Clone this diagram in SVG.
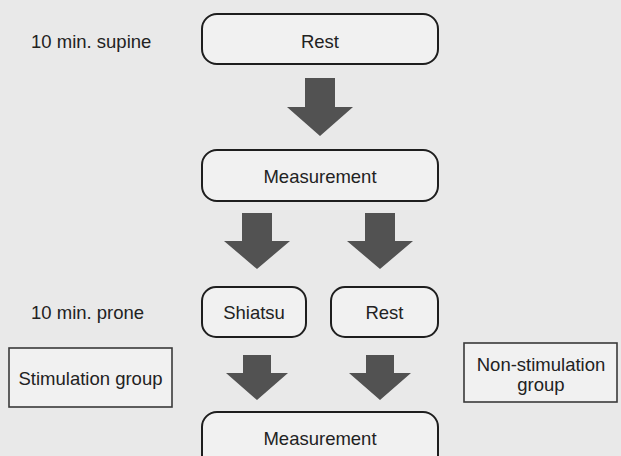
<svg xmlns="http://www.w3.org/2000/svg" width="621" height="456" viewBox="0 0 621 456">
<defs>
<style>
.bg{fill:#e9e9e9}
.rbox{fill:#f1f1f1;stroke:#1e1e1e;stroke-width:2}
.sbox{fill:#f1f1f1;stroke:#3a3a3a;stroke-width:1.6}
.t{font-family:"Liberation Sans",Arial,sans-serif;font-size:18.5px;fill:#222}
.c{text-anchor:middle}
.arr{fill:#525252}
</style>
</defs>
<rect class="bg" x="0" y="0" width="621" height="456"/>
<g id="label-supine"><text class="t" x="31" y="48">10 min. supine</text></g>
<g id="label-prone"><text class="t" x="31" y="319">10 min. prone</text></g>
<g id="rest1"><rect class="rbox" x="202" y="14" width="236" height="50" rx="15"/><text class="t c" x="320" y="48">Rest</text></g>
<g id="measurement1"><rect class="rbox" x="202" y="150" width="236" height="51" rx="15"/><text class="t c" x="320" y="183">Measurement</text></g>
<g id="shiatsu"><rect class="rbox" x="202" y="287" width="104" height="50" rx="14"/><text class="t c" x="254" y="319">Shiatsu</text></g>
<g id="rest2"><rect class="rbox" x="331" y="287" width="107" height="50" rx="14"/><text class="t c" x="384.5" y="319">Rest</text></g>
<g id="stimulation"><rect class="sbox" x="9" y="348" width="163" height="59"/><text class="t c" x="90.5" y="385">Stimulation group</text></g>
<g id="nonstimulation"><rect class="sbox" x="464" y="343" width="153" height="59"/><text class="t c" x="541" y="371">Non-stimulation</text><text class="t c" x="541" y="391">group</text></g>
<g id="measurement2"><rect class="rbox" x="202" y="412" width="236" height="60" rx="15"/><text class="t c" x="320" y="445">Measurement</text></g>
<g id="connectors">
<polygon class="arr" points="305,78 335,78 335,107 353,107 320,136 287,107 305,107"/>
<polygon class="arr" points="242,213 272,213 272,241 290,241 257,269 224,241 242,241"/>
<polygon class="arr" points="365,213 395,213 395,241 413,241 380,269 347,241 365,241"/>
<polygon class="arr" points="243,355 271,355 271,373 288,373 257,400 226,373 243,373"/>
<polygon class="arr" points="366,355 394,355 394,373 411,373 380,400 349,373 366,373"/>
</g>
</svg>
